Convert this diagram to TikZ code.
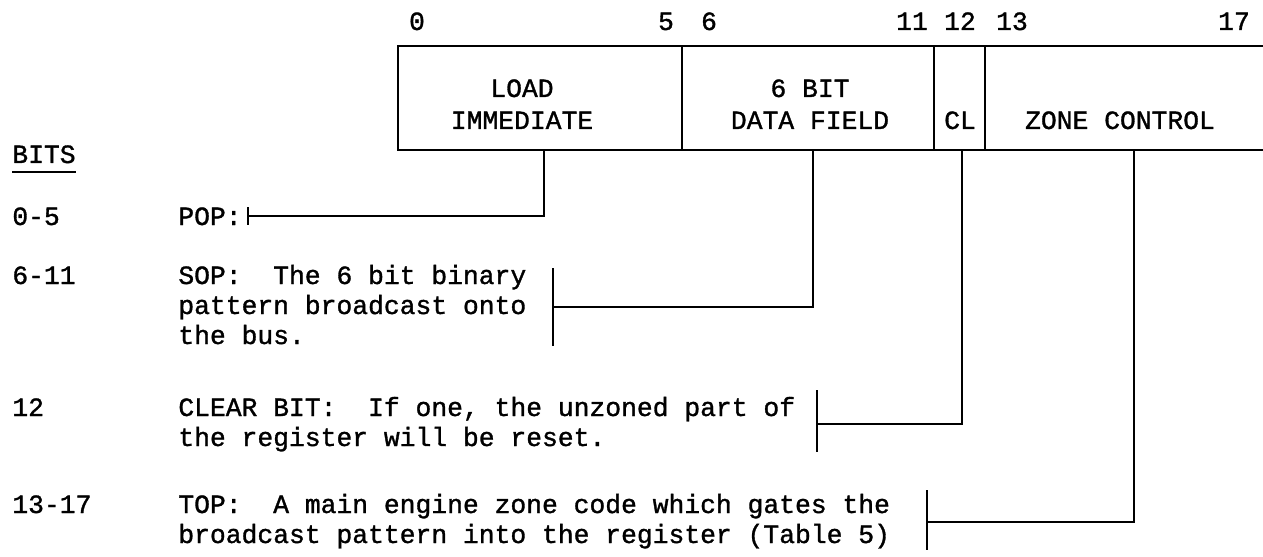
\documentclass[tikz,border=0pt]{standalone}
\usepackage{fontspec}
\newfontfamily\tw{Liberation Mono}[FakeBold=1.2]
\begin{document}
\begin{tikzpicture}[x=0.02cm,y=-0.02cm,
  boxline/.style={line width=1.6pt},
  conn/.style={line width=1.1pt},
  txt/.style={inner sep=0pt, anchor=base west, font=\tw\fontsize{15}{18}\selectfont},
  ctxt/.style={txt, anchor=base}]
\useasboundingbox (0,0) rectangle (1263,557);
% register box (open to the right)
\draw[boxline] (1263,46) -- (398,46) -- (398,150) -- (1263,150);
\draw[boxline] (682,46) -- (682,150);
\draw[boxline] (934,46) -- (934,150);
\draw[boxline] (985,46) -- (985,150);
% bit numbers
\node[ctxt] (n0)  at (417,30) {0};
\node[ctxt] (n5)  at (666,30) {5};
\node[ctxt] (n6)  at (709,30) {6};
\node[ctxt] (n11) at (912,30) {11};
\node[ctxt] (n12) at (960,30) {12};
\node[ctxt] (n13) at (1012,30) {13};
\node[ctxt] (n17) at (1234,30) {17};
% field labels
\node[ctxt] (f1a) at (522,97) {LOAD};
\node[ctxt] (f1b) at (522,129) {IMMEDIATE};
\node[ctxt] (f2a) at (810,97) {6 BIT};
\node[ctxt] (f2b) at (810,129) {DATA FIELD};
\node[ctxt] (f3)  at (960,129) {CL};
\node[ctxt] (f4)  at (1120,129) {ZONE CONTROL};
% left column
\node[txt] (bits) at (12,163) {BITS};
\draw[line width=0.9pt] (bits.west |- 0,172) -- (bits.east |- 0,172);
\node[txt] (r1) at (12,225) {0-5};
\node[txt] (r2) at (12,284) {6-11};
\node[txt] (r3) at (12,416) {12};
\node[txt] (r4) at (12,513) {13-17};
% descriptions
\node[txt] (d1) at (178,225) {POP:};
\node[txt] (d2a) at (178,284) {SOP:\ \ The 6 bit binary};
\node[txt] (d2b) at (178,314) {pattern broadcast onto};
\node[txt] (d2c) at (178,344) {the bus.};
\node[txt] (d3a) at (178,416) {CLEAR BIT:\ \ If one, the unzoned part of};
\node[txt] (d3b) at (178,446) {the register will be reset.};
\node[txt] (d4a) at (178,513) {TOP:\ \ A main engine zone code which gates the};
\node[txt] (d4b) at (178,543) {broadcast pattern into the register (Table 5)};
% connector points
\coordinate (popTop) at (544,150);
\coordinate (popEnd) at (248,216);
\coordinate (sopTop) at (813,150);
\coordinate (sopEnd) at (553,307);
\coordinate (clTop)  at (962,150);
\coordinate (clEnd)  at (817,424);
\coordinate (zTop)   at (1134,150);
\coordinate (zEnd)   at (927,522);
% connectors
\draw[conn] (popTop) |- (popEnd);
\draw[conn] (popEnd) ++(0,-9) -- ++(0,18);
\draw[conn] (sopTop) |- (sopEnd);
\draw[conn] (sopEnd) ++(0,-39) -- ++(0,78);
\draw[conn] (clTop) |- (clEnd);
\draw[conn] (clEnd) ++(0,-34) -- ++(0,62);
\draw[conn] (zTop) |- (zEnd);
\draw[conn] (zEnd) ++(0,-32) -- ++(0,60);
\end{tikzpicture}
\end{document}
